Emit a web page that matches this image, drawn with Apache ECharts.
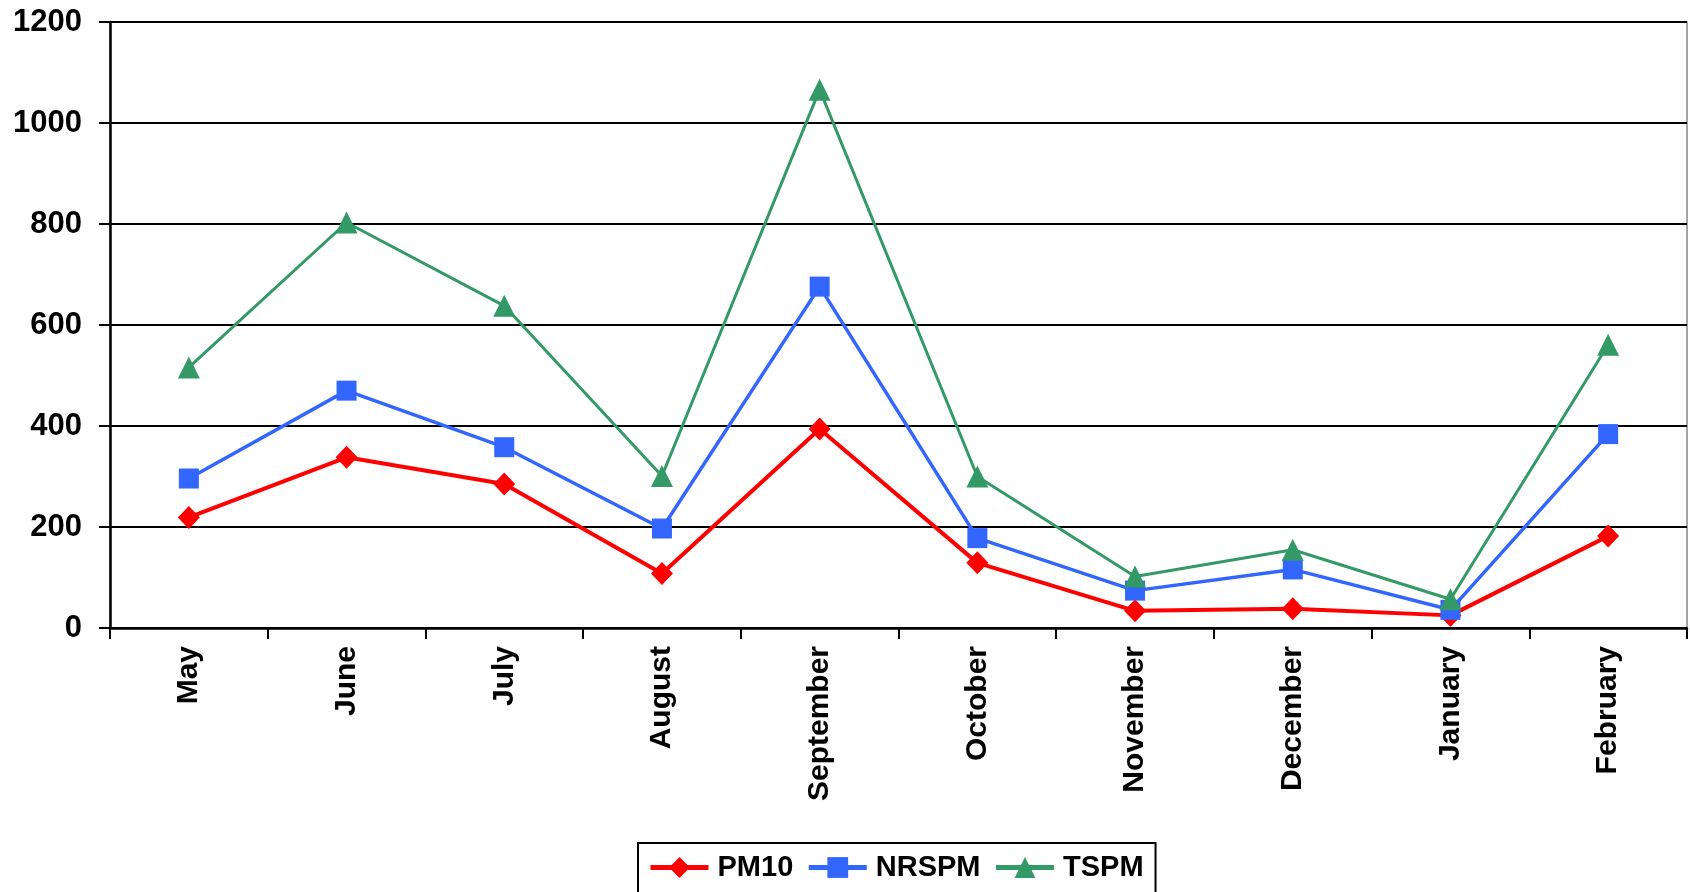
<!DOCTYPE html>
<html>
<head>
<meta charset="utf-8">
<script src="https://cdn.jsdelivr.net/npm/echarts@6/dist/echarts.min.js"></script>
<style>
html,body{margin:0;padding:0;background:#fff;}
#chart{width:1690px;height:892px;}
</style>
</head>
<body>
<div id="chart"></div>
<script>
const categories = ['May','June','July','August','September','October','November','December','January','February'];
const pm10  = [219, 338, 285, 108, 394, 129, 34, 38, 25, 182];
const nrspm = [296, 470, 358, 197, 676, 178, 74, 116, 36, 384];
const tspm  = [516, 803, 638, 301, 1066, 300, 102, 155, 57, 561];
const yTicks = { min: 0, max: 1200, interval: 200 };

const FONT = "'Liberation Sans', Arial, sans-serif";
const chart = echarts.init(document.getElementById('chart'));
chart.setOption({
  animation: false,
  backgroundColor: '#fff',
  grid: { left: 110, right: 3, top: 22, bottom: 264, show: true, borderColor: '#888', borderWidth: 1.5 },
  xAxis: {
    type: 'category',
    data: categories,
    boundaryGap: true,
    axisLine: { lineStyle: { color: '#000', width: 2.5 } },
    axisTick: { show: true, length: 11, lineStyle: { color: '#000', width: 2 } },
    axisLabel: { rotate: 90, margin: 18, color: '#000', fontSize: 30, fontWeight: 'bold', fontFamily: FONT }
  },
  yAxis: {
    type: 'value',
    min: yTicks.min, max: yTicks.max, interval: yTicks.interval,
    axisLine: { show: true, lineStyle: { color: '#000', width: 2.5 } },
    axisTick: { show: true, length: 11, lineStyle: { color: '#000', width: 2 } },
    splitLine: { lineStyle: { color: '#000', width: 2 } },
    axisLabel: { margin: 28, color: '#000', fontSize: 31, fontWeight: 'bold', fontFamily: FONT,
                 formatter: v => String(v) }
  },
  legend: {
    left: 638, top: 843,
    padding: [10, 12, 30, 10],
    borderColor: '#000', borderWidth: 2,
    itemWidth: 58, itemHeight: 26, itemGap: 13,
    lineStyle: { width: 5 },
    textStyle: { color: '#000', fontSize: 29, fontWeight: 'bold', fontFamily: FONT, padding: [0, 0, 0, 4] },
    data: ['PM10', 'NRSPM', 'TSPM']
  },
  series: [
    { name: 'PM10', type: 'line', data: pm10, symbol: 'diamond', symbolSize: [22, 23],
      lineStyle: { color: '#FF0000', width: 4 }, itemStyle: { color: '#FF0000' } },
    { name: 'NRSPM', type: 'line', data: nrspm, symbol: 'rect', symbolSize: [20, 20],
      lineStyle: { color: '#3366FF', width: 3.5 }, itemStyle: { color: '#3366FF' } },
    { name: 'TSPM', type: 'line', data: tspm, symbol: 'triangle', symbolSize: [22, 22],
      lineStyle: { color: '#339966', width: 3 }, itemStyle: { color: '#339966' } }
  ]
});
</script>
</body>
</html>
